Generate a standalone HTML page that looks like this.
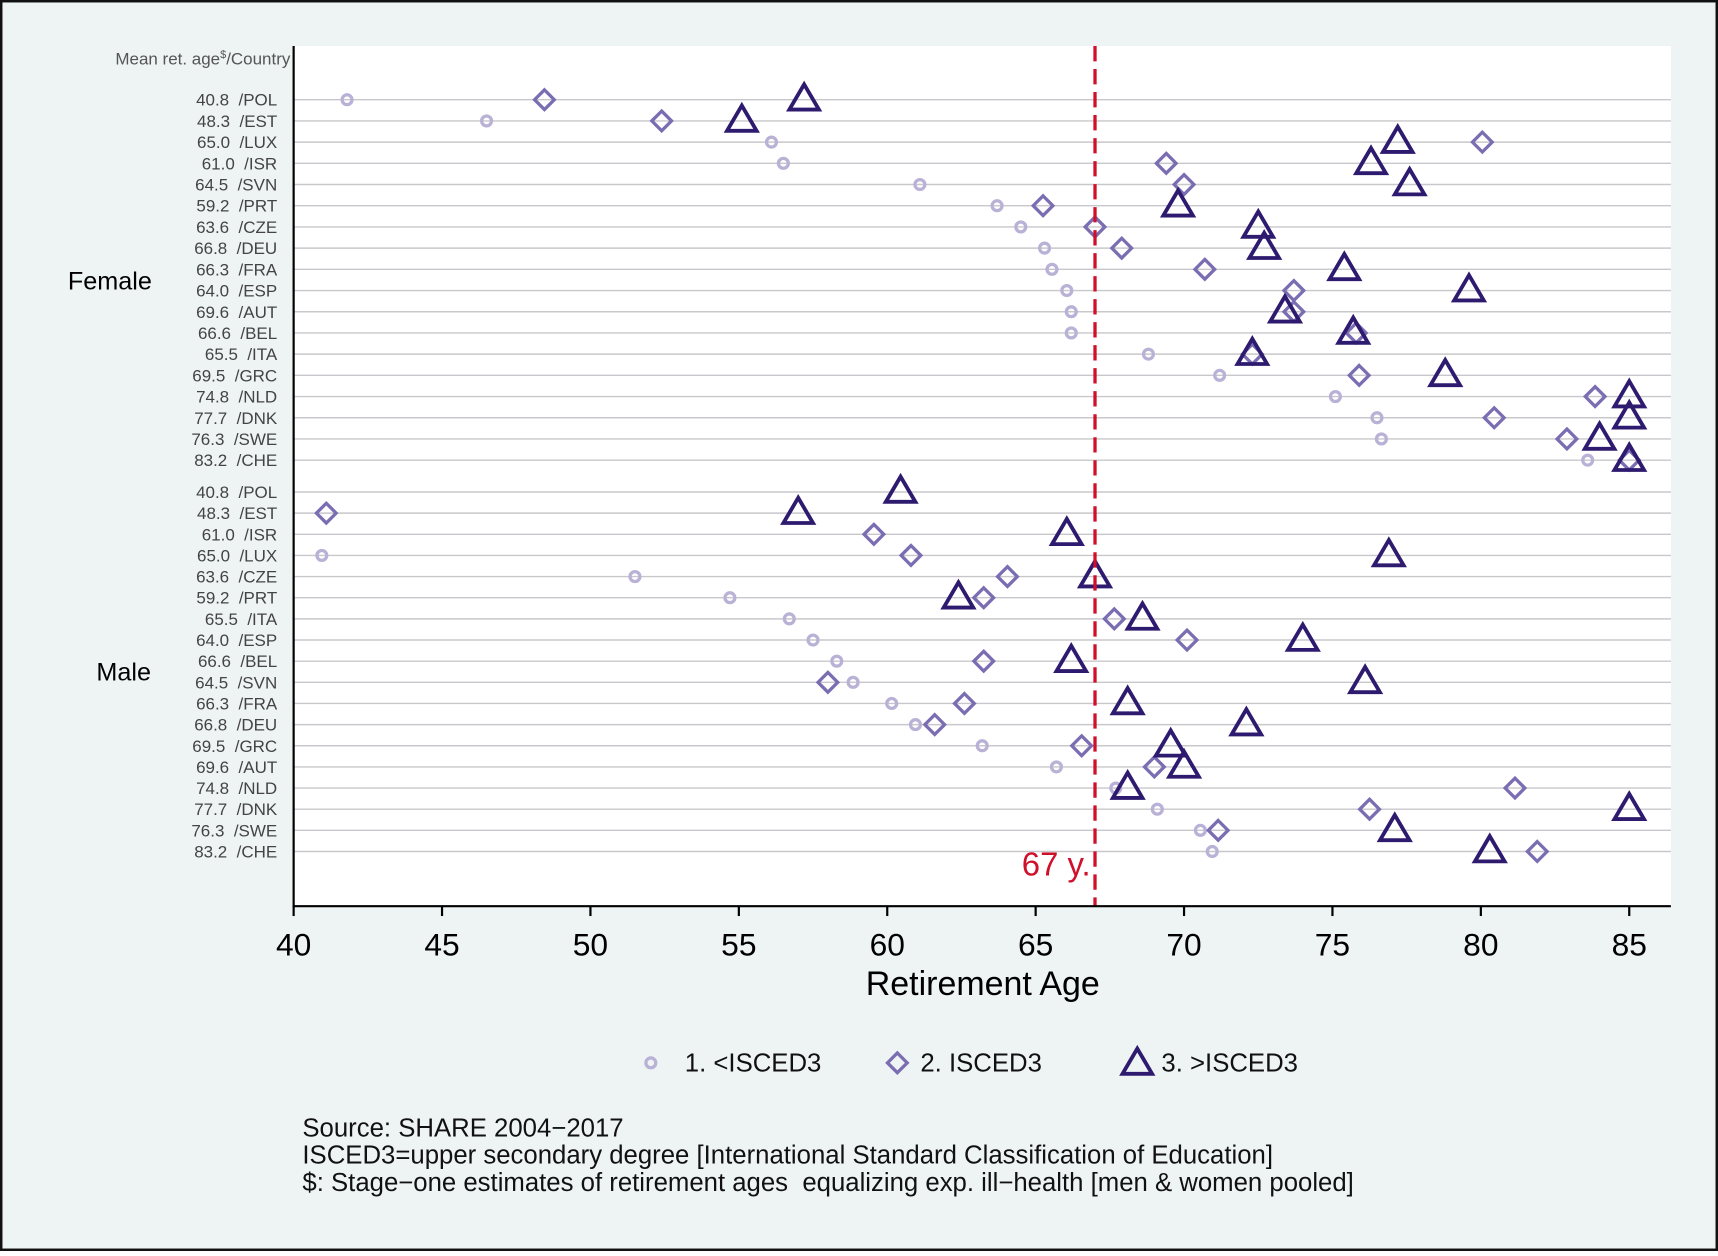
<!DOCTYPE html>
<html><head><meta charset="utf-8"><style>
html,body{margin:0;padding:0;background:#fff}
svg text{font-family:"Liberation Sans",Arial,sans-serif;white-space:pre}
</style></head><body>
<svg id="chart" width="1718" height="1251" viewBox="0 0 1568 1141.7" preserveAspectRatio="none" xmlns="http://www.w3.org/2000/svg">
<rect x="1" y="1" width="1566" height="1139.7" fill="#eef4f4" stroke="#111" stroke-width="2.5"/>
<rect x="268" y="42" width="1257" height="785" fill="#fff"/>
<g id="grid"></g>
<g id="marks"></g>
<line x1="268" y1="42" x2="268" y2="828" stroke="#000" stroke-width="2"/>
<line x1="267" y1="827" x2="1525" y2="827" stroke="#000" stroke-width="2"/>
<g id="xticks"></g>
<g id="labels"></g>
<text x="265" y="59" font-size="15.5" fill="#555" text-anchor="end">Mean ret. age<tspan font-size="10" dy="-6">$</tspan><tspan dy="6">/Country</tspan></text>
<text x="62" y="264" font-size="23" fill="#000">Female</text>
<text x="897" y="908" font-size="31" text-anchor="middle" fill="#000">Retirement Age</text>
<g>
<circle cx="594" cy="970" r="4.5" fill="none" stroke="#b9b2d6" stroke-width="3"/>
<text x="625" y="978" font-size="23.5" fill="#111">1. &lt;ISCED3</text>
<polygon points="819,961 828,970 819,979 810,970" fill="none" stroke="#7b6db2" stroke-width="3"/>
<text x="840" y="978" font-size="23.5" fill="#111">2. ISCED3</text>
<polygon points="1038,957 1024.5,980 1051.5,980" fill="none" stroke="#2e1a6e" stroke-width="3.5"/>
<text x="1060" y="978" font-size="23.5" fill="#111">3. &gt;ISCED3</text>
</g>
<g font-size="23.5" fill="#111">
<text x="276" y="1037">Source: SHARE 2004−2017</text>
<text x="276" y="1062">ISCED3=upper secondary degree [International Standard Classification of Education]</text>
<text x="276" y="1087">$: Stage−one estimates of retirement ages  equalizing exp. ill−health [men &amp; women pooled]</text>
</g>
</svg>
<script>
const xTicks=[40,45,50,55,60,65,70,75,80,85];
const femaleLabels=["40.8  /POL","48.3  /EST","65.0  /LUX","61.0  /ISR","64.5  /SVN","59.2  /PRT","63.6  /CZE","66.8  /DEU","66.3  /FRA","64.0  /ESP","69.6  /AUT","66.6  /BEL","65.5  /ITA","69.5  /GRC","74.8  /NLD","77.7  /DNK","76.3  /SWE","83.2  /CHE"];
const femaleLow=[41.8,46.5,56.1,56.5,61.1,63.7,64.5,65.3,65.55,66.05,66.2,66.2,68.8,71.2,75.1,76.5,76.65,83.6];
const femaleMid=[48.45,52.4,80.05,69.4,70.0,65.25,67.0,67.9,70.7,73.7,73.7,75.8,72.3,75.9,83.85,80.45,82.9,85];
const femaleHigh=[57.2,55.1,77.2,76.3,77.6,69.8,72.5,72.7,75.4,79.6,73.4,75.7,72.3,78.8,85,85,84.0,85];
const maleLabels=["40.8  /POL","48.3  /EST","61.0  /ISR","65.0  /LUX","63.6  /CZE","59.2  /PRT","65.5  /ITA","64.0  /ESP","66.6  /BEL","64.5  /SVN","66.3  /FRA","66.8  /DEU","69.5  /GRC","69.6  /AUT","74.8  /NLD","77.7  /DNK","76.3  /SWE","83.2  /CHE"];
const maleLow=[null,null,null,40.95,51.5,54.7,56.7,57.5,58.3,58.85,60.15,60.95,63.2,65.7,67.7,69.1,70.55,70.95];
const maleMid=[null,41.1,59.55,60.8,64.05,63.25,67.65,70.1,63.25,58.0,62.6,61.6,66.55,69.0,81.15,76.25,71.15,81.9];
const maleHigh=[60.45,57.0,66.05,76.9,67.0,62.4,68.6,74.0,66.2,76.1,68.1,72.1,69.55,70.0,68.1,85,77.1,80.3];
const refAge=67;

const NS="http://www.w3.org/2000/svg";
const X=v=>268+(v-40)*(1487-268)/45;
const FY=i=>91+i*19.35;
const MY=i=>449+i*19.3;
function mk(tag,attrs,parent){const e=document.createElementNS(NS,tag);for(const k in attrs)e.setAttribute(k,attrs[k]);parent.appendChild(e);return e;}
const grid=document.getElementById('grid'),marks=document.getElementById('marks'),xt=document.getElementById('xticks'),lab=document.getElementById('labels');

xTicks.forEach(t=>{
  const l=mk('line',{x1:X(t),x2:X(t),y1:827,y2:836,stroke:'#000','stroke-width':2},xt);
  
  
  const tx=mk('text',{x:X(t),y:872,'font-size':29,'text-anchor':'middle',fill:'#000'},xt);
  tx.textContent=t;
  
  
});

function group(labels,low,mid,high,Y,prefix){
  labels.forEach((s,i)=>{
    const y=Y(i);
    const g=mk('line',{x1:268,x2:1525,y1:y,y2:y,stroke:'#c8c8cc','stroke-width':1.3},grid);
    
    
    const t=mk('text',{x:253,y:y+5.5,'font-size':15.5,'text-anchor':'end',fill:'#444'},lab);
    t.textContent=s;
    
    
  });
  low.forEach((v,i)=>{ if(v==null)return;
    const c=mk('circle',{cx:X(v),cy:Y(i),r:4.5,fill:'none',stroke:'#b9b2d6','stroke-width':3},marks);
    
    
  });
  mid.forEach((v,i)=>{ if(v==null)return;
    const x=X(v),y=Y(i),d=9;
    const p=mk('polygon',{points:`${x},${y-d} ${x+d},${y} ${x},${y+d} ${x-d},${y}`,fill:'none',stroke:'#7b6db2','stroke-width':3},marks);
    
    
  });
  high.forEach((v,i)=>{ if(v==null)return;
    const x=X(v),y=Y(i);
    const p=mk('polygon',{points:`${x},${y-14} ${x-13.5},${y+9} ${x+13.5},${y+9}`,fill:'none',stroke:'#2e1a6e','stroke-width':3.5},marks);
    
    
  });
}
group(femaleLabels,femaleLow,femaleMid,femaleHigh,FY,'female');
group(maleLabels,maleLow,maleMid,maleHigh,MY,'male');

const rl=mk('line',{x1:X(refAge),x2:X(refAge),y1:42,y2:827,stroke:'#d0102a','stroke-width':3,'stroke-dasharray':'14,7'},marks);


const rt=mk('text',{x:X(refAge)-4,y:799,'font-size':30,'text-anchor':'end',fill:'#d0102a'},marks);
rt.textContent='67 y.';


const ml=mk('text',{x:88,y:621,'font-size':23,fill:'#000'},lab);
ml.textContent='Male';


</script>
</body></html>
